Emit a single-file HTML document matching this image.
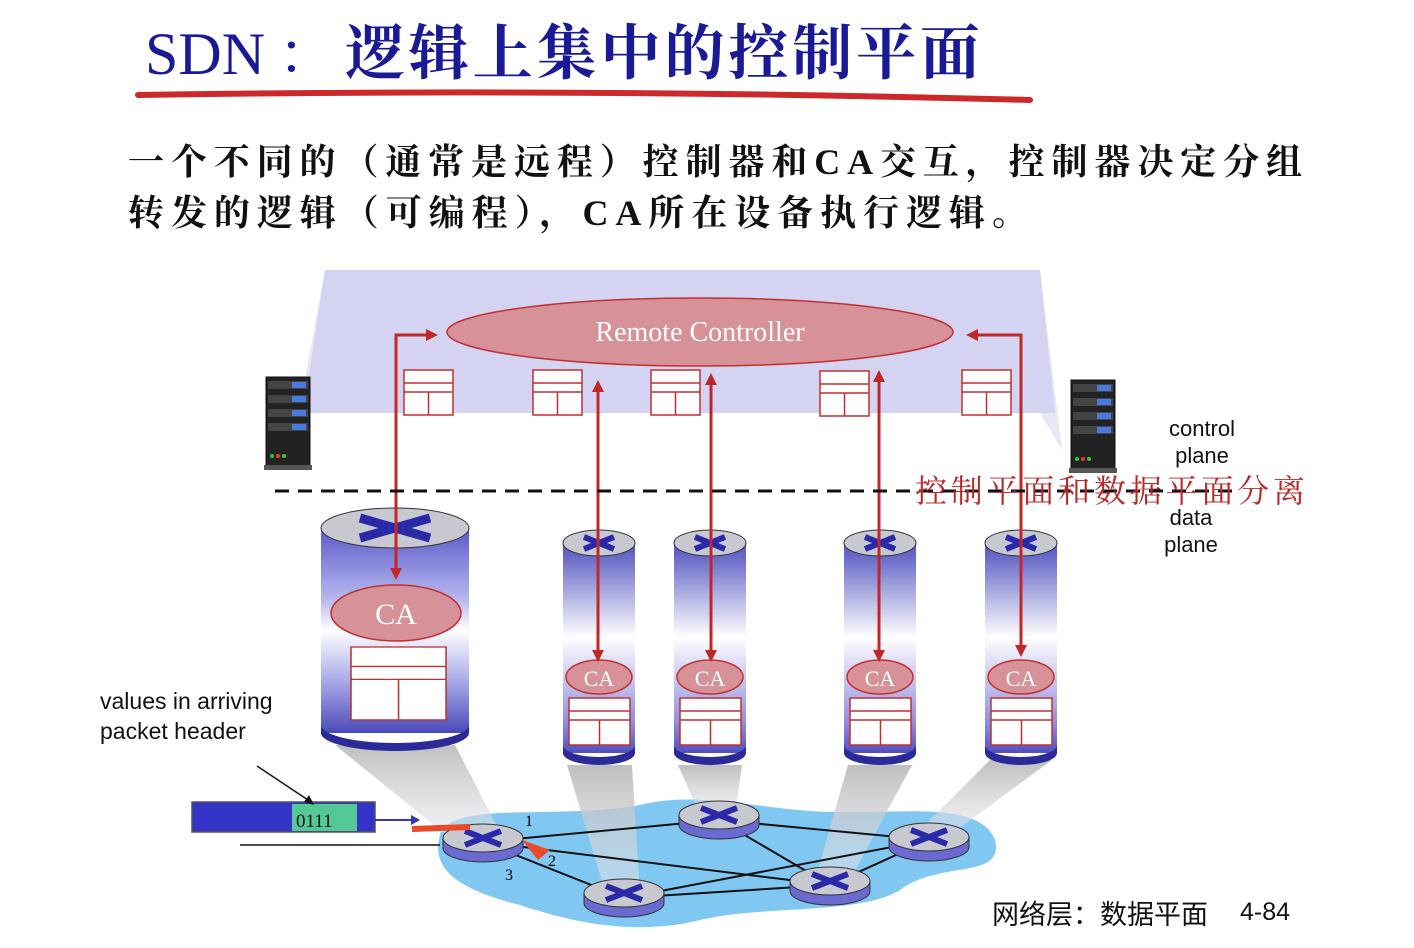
<!DOCTYPE html>
<html><head><meta charset="utf-8"><style>
html,body{margin:0;padding:0;background:#fff;}
svg{display:block}
.serif{font-family:"Liberation Serif","Noto Serif CJK SC",serif}
.sans{font-family:"Liberation Sans","Noto Sans CJK SC",sans-serif}
</style></head><body>
<svg width="1414" height="948" viewBox="0 0 1414 948" xmlns="http://www.w3.org/2000/svg">
<defs>
<linearGradient id="cylB" x1="0" y1="0" x2="0" y2="1">
<stop offset="0" stop-color="#5a5ac8"/><stop offset="0.35" stop-color="#b8b8f0"/><stop offset="0.5" stop-color="#ffffff"/><stop offset="0.75" stop-color="#a8a8e8"/><stop offset="1" stop-color="#4a4ab8"/>
</linearGradient>
<linearGradient id="cylS" x1="0" y1="0" x2="0" y2="1">
<stop offset="0" stop-color="#5050c0"/><stop offset="0.45" stop-color="#ffffff"/><stop offset="0.85" stop-color="#9090e0"/><stop offset="1" stop-color="#5050c0"/>
</linearGradient>
<linearGradient id="beam" x1="0" y1="0" x2="0" y2="1">
<stop offset="0" stop-color="#b8b8b8" stop-opacity="0.9"/><stop offset="1" stop-color="#e8e8f0" stop-opacity="0.5"/>
</linearGradient>
<g id="rt">
<path d="M-40,0 v10 a40,14 0 0 0 80,0 v-10 z" fill="#6a6ad0" stroke="#333" stroke-width="1"/>
<ellipse cx="0" cy="0" rx="40" ry="14" fill="#c8c8d0" stroke="#333" stroke-width="1"/>
<path d="M-18,-7 L18,7 M-18,7 L18,-7" stroke="#2a2aa8" stroke-width="6"/>
</g>
<g id="tb">
<rect x="0" y="0" width="49" height="45" fill="#fff" stroke="#c03030" stroke-width="1.5"/>
<path d="M0,13 H49 M0,22 H49 M24.5,22 V45" stroke="#c03030" stroke-width="1.5"/>
</g>
<g id="sv">
<rect x="0" y="0" width="44" height="92" fill="#222" stroke="#111"/>
<rect x="2" y="4" width="40" height="8" fill="#444"/><rect x="26" y="5" width="14" height="6" fill="#4a7ae0"/>
<rect x="2" y="18" width="40" height="8" fill="#444"/><rect x="26" y="19" width="14" height="6" fill="#4a7ae0"/>
<rect x="2" y="32" width="40" height="8" fill="#444"/><rect x="26" y="33" width="14" height="6" fill="#4a7ae0"/>
<rect x="2" y="46" width="40" height="8" fill="#444"/><rect x="26" y="47" width="14" height="6" fill="#4a7ae0"/>
<circle cx="6" cy="79" r="2" fill="#3c3"/><circle cx="12" cy="79" r="2" fill="#e33"/><circle cx="18" cy="79" r="2" fill="#3c3"/>
<rect x="-2" y="88" width="48" height="5" fill="#555"/>
</g>
</defs>

<!-- title -->
<text x="145" y="74" class="serif" font-size="60" fill="#1a1a96">SDN</text>
<text x="278" y="74" class="serif" font-size="58" fill="#1a1a96">：</text>
<text x="345" y="74" class="serif" font-size="60" font-weight="bold" fill="#1a1a96" textLength="635" lengthAdjust="spacing">逻辑上集中的控制平面</text>
<path d="M138,95 Q580,88 1030,100" stroke="#cc2a2a" stroke-width="6" fill="none" stroke-linecap="round"/>

<text x="128" y="174" class="serif" font-size="36" font-weight="bold" fill="#111" textLength="1174" lengthAdjust="spacing">一个不同的（通常是远程）控制器和CA交互，控制器决定分组</text>
<text x="128" y="225" class="serif" font-size="36" font-weight="bold" fill="#111" textLength="900" lengthAdjust="spacing">转发的逻辑（可编程），CA所在设备执行逻辑。</text>

<!-- control plane -->
<path d="M325,270 L1040,270 L1062,450 L1040,413 L303,413 L290,460 Z" fill="#e8e8f4"/>
<path d="M325,270 L1040,270 L1055,413 L303,413 Z" fill="#d4d4f2"/>
<ellipse cx="700" cy="332" rx="253" ry="34" fill="#d69298" stroke="#c03030" stroke-width="1.5"/>
<text x="700" y="341" text-anchor="middle" class="serif" font-size="28" fill="#fff">Remote Controller</text>
<use href="#tb" x="404" y="370"/><use href="#tb" x="533" y="370"/><use href="#tb" x="651" y="370"/><use href="#tb" x="820" y="371"/><use href="#tb" x="962" y="370"/>
<use href="#sv" x="266" y="377"/><use href="#sv" x="1071" y="380"/>

<!-- network cloud -->
<path d="M440,835 C450,800 560,820 640,805 C700,790 760,810 830,812 C900,814 980,800 995,840 C1005,880 940,860 900,890 C860,915 760,905 700,920 C640,935 580,925 520,905 C460,890 430,870 440,835Z" fill="#80c8f2"/>

<!-- beams -->
<path d="M335,745 L455,745 L500,832 L450,838 Z" fill="url(#beam)"/>
<path d="M567,765 L632,765 L640,895 L606,895 Z" fill="url(#beam)"/>
<path d="M678,765 L742,765 L735,815 L700,815 Z" fill="url(#beam)"/>
<path d="M848,765 L912,765 L850,880 L815,880 Z" fill="url(#beam)"/>
<path d="M990,760 L1052,760 L950,835 L915,835 Z" fill="url(#beam)"/>

<!-- big cylinder -->
<rect x="321" y="528" width="148" height="205" fill="url(#cylB)"/>
<path d="M321,725 v8 a74,18 0 0 0 148,0 v-8 a74,18 0 0 1 -148,0z" fill="#2a2a98"/>
<ellipse cx="395" cy="528" rx="74" ry="20" fill="#c8c8d0" stroke="#333"/>
<path d="M360,518 L430,538 M360,538 L430,518" stroke="#2a2aa8" stroke-width="9"/>
<ellipse cx="396" cy="613" rx="65" ry="28" fill="#d69298" stroke="#c03030" stroke-width="1.5"/>
<text x="396" y="624" text-anchor="middle" class="serif" font-size="30" fill="#fff">CA</text>
<g transform="translate(351,647) scale(1.94,1.62)"><rect x="0" y="0" width="49" height="45" fill="#fff" stroke="#c03030" stroke-width="0.8"/><path d="M0,12 H49 M0,20 H49 M24.5,20 V45" stroke="#c03030" stroke-width="0.8"/></g>

<!-- small cylinders -->
<g id="sc">
<rect x="563" y="543" width="72" height="210" fill="url(#cylS)"/>
<path d="M563,745 v8 a36,12 0 0 0 72,0 v-8 a36,12 0 0 1 -72,0z" fill="#2a2a98"/>
<ellipse cx="599" cy="543" rx="36" ry="13" fill="#c8c8d0" stroke="#333"/>
<path d="M584,537 L614,549 M584,549 L614,537" stroke="#2a2aa8" stroke-width="6"/>
<ellipse cx="599" cy="677" rx="33" ry="17" fill="#d69298" stroke="#c03030" stroke-width="1.5"/>
<text x="599" y="686" text-anchor="middle" class="serif" font-size="22" fill="#fff">CA</text>
<rect x="569" y="698" width="61" height="47" fill="#fff" stroke="#c03030" stroke-width="1.5"/>
<path d="M569,711 H630 M569,720 H630 M599.5,720 V745" stroke="#c03030" stroke-width="1.5"/>
</g>
<use href="#sc" x="111"/><use href="#sc" x="281"/><use href="#sc" x="422"/>

<!-- red arrows -->
<g stroke="#c02828" stroke-width="3" fill="none">
<path d="M396,568 V335 H428"/>
<path d="M1021,645 V335 H978"/>
<path d="M598,392 V650"/><path d="M711,385 V650"/><path d="M879,382 V650"/>
</g>
<g fill="#c02828">
<path d="M438,335 l-12,-6 v12z"/><path d="M966,335 l12,-6 v12z"/>
<path d="M396,580 l-6,-12 h12z"/><path d="M1021,657 l-6,-12 h12z"/>
<path d="M598,380 l-6,12 h12z"/><path d="M598,662 l-6,-12 h12z"/>
<path d="M711,373 l-6,12 h12z"/><path d="M711,662 l-6,-12 h12z"/>
<path d="M879,370 l-6,12 h12z"/><path d="M879,662 l-6,-12 h12z"/>
</g>

<!-- dashed line -->
<line x1="275" y1="491" x2="1240" y2="491" stroke="#111" stroke-width="3" stroke-dasharray="14,9"/>
<text x="1202" y="436" text-anchor="middle" class="sans" font-size="22" fill="#111">control</text>
<text x="1202" y="463" text-anchor="middle" class="sans" font-size="22" fill="#111">plane</text>
<text x="1191" y="525" text-anchor="middle" class="sans" font-size="22" fill="#111">data</text>
<text x="1191" y="552" text-anchor="middle" class="sans" font-size="22" fill="#111">plane</text>
<text x="915" y="502" class="serif" font-size="32" fill="#b82828" textLength="390" lengthAdjust="spacing">控制平面和数据平面分离</text>

<!-- network -->
<g stroke="#111" stroke-width="2">
<line x1="483" y1="842" x2="719" y2="820"/><line x1="483" y1="842" x2="830" y2="885"/><line x1="483" y1="842" x2="624" y2="898"/>
<line x1="719" y1="820" x2="929" y2="840"/><line x1="719" y1="820" x2="830" y2="885"/>
<line x1="624" y1="898" x2="929" y2="840"/><line x1="624" y1="898" x2="830" y2="885"/><line x1="830" y1="885" x2="929" y2="840"/>
</g>
<line x1="240" y1="845" x2="440" y2="845" stroke="#111" stroke-width="1.5"/>
<use href="#rt" x="483" y="838"/><use href="#rt" x="719" y="815"/><use href="#rt" x="929" y="837"/><use href="#rt" x="624" y="893"/><use href="#rt" x="830" y="881"/>
<text x="525" y="826" class="serif" font-size="16">1</text>
<text x="548" y="866" class="serif" font-size="16">2</text>
<text x="505" y="880" class="serif" font-size="16">3</text>
<path d="M412,826 L470,824 L470,830 L412,832Z" fill="#e84a2a"/>
<path d="M522,840 L550,850 L538,860 Z" fill="#e84a2a"/>

<!-- packet -->
<rect x="192" y="802" width="183" height="30" fill="#3333c8" stroke="#555" stroke-width="1.5"/>
<rect x="292" y="804" width="65" height="27" fill="#55c898"/>
<text x="296" y="827" class="serif" font-size="19" fill="#111">0111</text>
<line x1="375" y1="820" x2="412" y2="820" stroke="#3333c8" stroke-width="2"/>
<path d="M420,820 l-9,-5 v10z" fill="#3333c8"/>
<line x1="257" y1="766" x2="308" y2="800" stroke="#111" stroke-width="1.5"/>
<path d="M314,805 l-10,-3 l5,-7z" fill="#111"/>
<text x="100" y="709" class="sans" font-size="23" fill="#111">values in arriving</text>
<text x="100" y="739" class="sans" font-size="23" fill="#111">packet header</text>

<text x="992" y="924" class="sans" font-size="27" fill="#111">网络层：数据平面</text>
<text x="1240" y="920" class="sans" font-size="25" fill="#111">4-84</text>
</svg>
</body></html>
